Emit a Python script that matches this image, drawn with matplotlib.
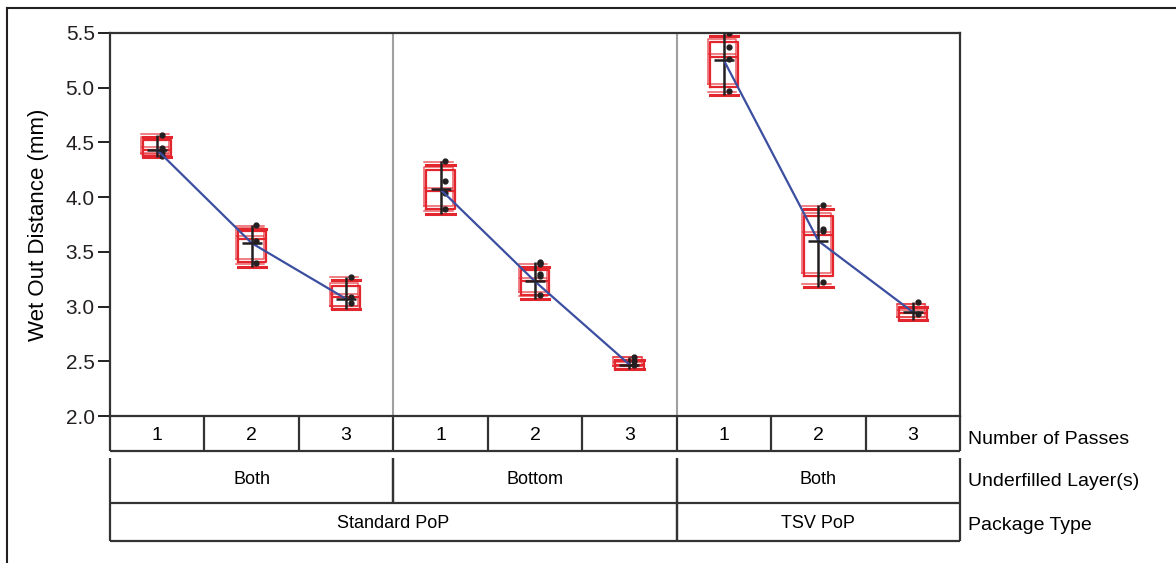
import matplotlib
matplotlib.use("Agg")
import matplotlib.pyplot as plt
from matplotlib.lines import Line2D
from matplotlib.transforms import offset_copy

plt.rcParams["font.family"] = ["Liberation Sans", "DejaVu Sans"]

# --- data ---
passes = ["1", "2", "3", "1", "2", "3", "1", "2", "3"]
layers = ["Both", "Bottom", "Both"]
layer_spans = [(1, 3), (4, 6), (7, 9)]
packages = ["Standard PoP", "TSV PoP"]
package_spans = [(1, 6), (7, 9)]

whis_lo = [4.37, 3.36, 2.98, 3.85, 3.07, 2.43, 4.93, 3.18, 2.88]
q1 = [4.38, 3.41, 2.98, 3.89, 3.11, 2.43, 5.01, 3.28, 2.88]
median = [4.43, 3.62, 3.09, 4.06, 3.23, 2.47, 5.28, 3.65, 2.94]
q3 = [4.52, 3.69, 3.19, 4.25, 3.33, 2.51, 5.42, 3.83, 3.00]
whis_hi = [4.55, 3.71, 3.24, 4.29, 3.36, 2.51, 5.47, 3.89, 3.00]
means = [4.43, 3.58, 3.07, 4.07, 3.23, 2.47, 5.25, 3.60, 2.95]
points = [
    [4.57, 4.45, 4.41, 4.38],
    [3.75, 3.60, 3.40],
    [3.27, 3.09, 3.03],
    [4.33, 4.15, 4.04, 3.89],
    [3.40, 3.41, 3.39, 3.30, 3.28, 3.11],
    [2.54, 2.50, 2.47],
    [5.50, 5.37, 5.26, 4.97],
    [3.93, 3.71, 3.69, 3.22],
    [3.04, 2.93],
]

RED = "#e3262d"
BLUE = "#3b4ea0"
BLACK = "#231f20"
GRAY = "#a0a0a0"

W, H = 1176, 563
fig = plt.figure(figsize=(W / 100, H / 100), dpi=100)

# outer frame lines (top and left only visible)
fig.add_artist(Line2D([7 / W, 1], [1 - 8 / H, 1 - 8 / H], color=BLACK, lw=1.5))
fig.add_artist(Line2D([7 / W, 7 / W], [0, 1 - 8 / H], color=BLACK, lw=1.5))

x0, x1 = 110, 960
ax = fig.add_axes([x0 / W, 1 - 416 / H, (x1 - x0) / W, (416 - 33) / H])
pos = list(range(1, 10))

stats = []
for i in range(9):
    stats.append(dict(med=median[i], q1=q1[i], q3=q3[i],
                      whislo=whis_lo[i], whishi=whis_hi[i], fliers=[]))

boxkw = dict(positions=pos, widths=0.3, capwidths=0.3, showfliers=False,
             boxprops=dict(color=RED, lw=1.6),
             medianprops=dict(color=RED, lw=1.6),
             whiskerprops=dict(color=RED, lw=0),
             capprops=dict(color=RED, lw=2.2))
ax.bxp(stats, **boxkw)
# faint print ghost of the boxes
ghost = ax.bxp(stats, **boxkw)
tr = offset_copy(ax.transData, fig=fig, x=-2, y=3, units="dots")
for key in ("boxes", "medians", "caps"):
    for art in ghost[key]:
        art.set_transform(tr)
        art.set_alpha(0.75)
        art.set_linewidth(1.1)

for i, p in enumerate(pos):
    lo = min(whis_lo[i], min(points[i]))
    hi = max(whis_hi[i], max(points[i]))
    ax.vlines(p, lo, hi, color=BLACK, lw=1.8, zorder=4)
    ax.plot([p + 0.05] * len(points[i]), points[i], "o", color=BLACK,
            ms=3.5, zorder=5)

# mean lines, one per panel
for a, b in layer_spans:
    ax.plot(pos[a - 1:b], means[a - 1:b], color=BLUE, lw=1.6, zorder=6)
ax.plot(pos, means, "_", color=BLACK, ms=14, mew=1.8, zorder=6)

for xs in (3.5, 6.5):
    ax.axvline(xs, color=GRAY, lw=1.5)

ax.set_xlim(0.5, 9.5)
ax.set_ylim(2.0, 5.5)
ax.set_yticks([2.0, 2.5, 3.0, 3.5, 4.0, 4.5, 5.0, 5.5])
ax.set_yticklabels([f"{v:.1f}" for v in ax.get_yticks()], fontsize=15)
ax.tick_params(axis="y", length=9, width=1.4, pad=2, colors=BLACK)
ax.set_xticks([])
for s in ax.spines.values():
    s.set_linewidth(1.6)
    s.set_color("#333333")
ax.set_ylabel("Wet Out Distance (mm)", fontsize=16, labelpad=12)

# --- nested category table under the plot ---
tb = fig.add_axes([x0 / W, 1 - 541 / H, (x1 - x0) / W, (541 - 416) / H])
tb.set_xlim(0.5, 9.5)
tb.set_ylim(541, 416)
tb.axis("off")
lc = dict(color="#333333", lw=1.6, clip_on=False)

tb.vlines([p - 0.5 for p in pos] + [9.5], 416, 451, **lc)
tb.hlines(451, 0.5, 9.5, **lc)
for p, lab in zip(pos, passes):
    tb.text(p, 436, lab, ha="center", va="center", fontsize=14)

for (a, b), lab in zip(layer_spans, layers):
    tb.vlines([a - 0.5, b + 0.5], 458, 503, **lc)
    tb.text((a + b) / 2, 479, lab, ha="center", va="center", fontsize=13)
tb.hlines(503, 0.5, 9.5, **lc)

for (a, b), lab in zip(package_spans, packages):
    tb.vlines([a - 0.5, b + 0.5], 503, 541, **lc)
    tb.text((a + b) / 2, 523, lab, ha="center", va="center", fontsize=13)
tb.hlines(541, 0.5, 9.5, **lc)

for yy, lab in ((440, "Number of Passes"), (482, "Underfilled Layer(s)"),
                (526, "Package Type")):
    fig.text(968 / W, 1 - yy / H, lab, ha="left", va="center", fontsize=14)

fig.savefig("out.png", dpi=100)
